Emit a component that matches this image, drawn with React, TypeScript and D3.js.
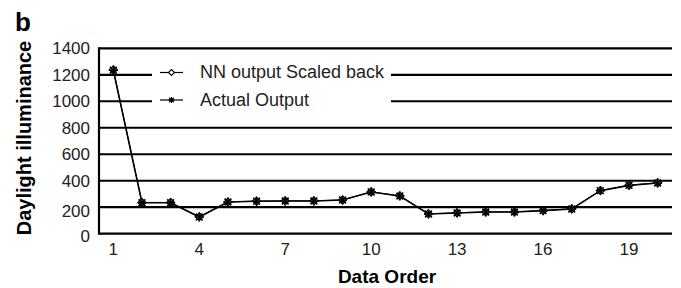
import * as React from 'react'
import * as d3 from 'd3'

const categories = d3.range(1, 21).map(String)
const nnOutput = [1238, 236, 236, 128, 240, 246, 248, 248, 255, 316, 286, 150, 158, 165, 165, 175, 188, 326, 366, 384]
const actualOutput = [1234, 234, 234, 126, 239, 245, 247, 247, 254, 315, 285, 149, 156, 164, 164, 174, 187, 325, 365, 383]
const yTicks = [0, 200, 400, 600, 800, 1000, 1200, 1400]
const xTickLabels = ['1', '4', '7', '10', '13', '16', '19']
const seriesNames = ['NN output Scaled back', 'Actual Output']

const W = 681
const H = 288
const left = 99
const right = 672
const top = 48.3
const bottom = 233.7
const font = 'Liberation Sans, Arial, sans-serif'

const Asterisk = ({ x, y, r = 4.5, w = 1.6 }) => (
  <g stroke="#000" strokeWidth={w}>
    <line x1={x - r} y1={y} x2={x + r} y2={y} />
    <line x1={x} y1={y - r} x2={x} y2={y + r} />
    <line x1={x - r * 0.75} y1={y - r * 0.75} x2={x + r * 0.75} y2={y + r * 0.75} />
    <line x1={x - r * 0.75} y1={y + r * 0.75} x2={x + r * 0.75} y2={y - r * 0.75} />
  </g>
)

const Diamond = ({ x, y, r = 4 }) => (
  <path d={`M${x},${y - r}L${x + r},${y}L${x},${y + r}L${x - r},${y}Z`} fill="#fff" stroke="#000" strokeWidth={1.1} />
)

const App = () => {
  const x = d3.scaleBand().domain(categories).range([left, right]).padding(0)
  const y = d3.scaleLinear().domain([0, 1400]).range([bottom, top])
  const cx = (c: string) => (x(c) as number) + x.bandwidth() / 2

  const line = d3.line<number>()
    .x((_, i) => cx(categories[i]))
    .y(d => y(d))

  return (
    <svg width={W} height={H} style={{ position: 'absolute', left: 0, top: 0, background: '#fff' }}>
      {/* grid */}
      {yTicks.map(t => (
        <line key={t} x1={left} x2={right} y1={y(t)} y2={y(t)} stroke="#000" strokeWidth={2.2} />
      ))}
      <line x1={left} x2={left} y1={top - 1} y2={bottom + 1} stroke="#000" strokeWidth={2.2} />

      {/* y labels */}
      {yTicks.map(t => (
        <text key={t} x={90} y={y(t) + (t === 0 ? 8 : t === 200 ? 10 : 6)} textAnchor="end"
          fontFamily={font} fontSize={17} fill="#222">{t}</text>
      ))}

      {/* x labels */}
      {xTickLabels.map(c => (
        <text key={c} x={cx(c)} y={255} textAnchor="middle" fontFamily={font} fontSize={17} fill="#222">{c}</text>
      ))}

      {/* series */}
      <path d={line(actualOutput) || ''} fill="none" stroke="#000" strokeWidth={1.6} />
      <path d={line(nnOutput) || ''} fill="none" stroke="#000" strokeWidth={1} />
      {nnOutput.map((v, i) => <Diamond key={'d' + i} x={cx(categories[i])} y={y(v)} />)}
      {actualOutput.map((v, i) => <Asterisk key={'a' + i} x={cx(categories[i])} y={y(v)} />)}

      {/* legend */}
      <rect x={152} y={60} width={239} height={52} fill="#fff" />
      {seriesNames.map((name, i) => {
        const ly = 72.5 + i * 27.5
        return (
          <g key={name}>
            <line x1={160} x2={183} y1={ly} y2={ly} stroke="#000" strokeWidth={1.2} />
            {i === 0 ? <Diamond x={171.5} y={ly} r={3} /> : <Asterisk x={171.5} y={ly} r={3} w={1.2} />}
            <text x={200} y={ly + 5.5} fontFamily={font} fontSize={18} fill="#222">{name}</text>
          </g>
        )
      })}

      {/* titles */}
      <text x={15} y={31} fontFamily={font} fontSize={26} fontWeight="bold">b</text>
      <text transform="translate(31,138) rotate(-90)" textAnchor="middle" fontFamily={font} fontSize={20} fontWeight="bold">
        Daylight illuminance
      </text>
      <text x={387} y={283} textAnchor="middle" fontFamily={font} fontSize={19} fontWeight="bold">Data Order</text>
    </svg>
  )
}

export default App
